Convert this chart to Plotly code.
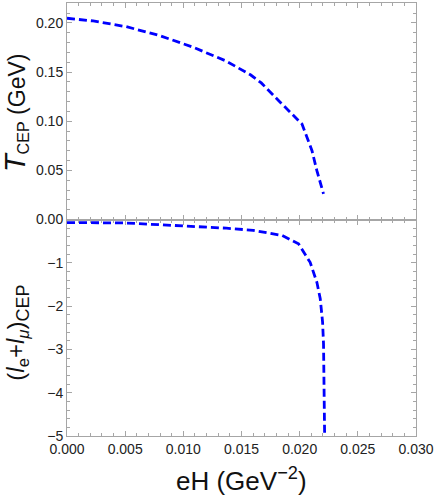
import plotly.graph_objects as go
from plotly.subplots import make_subplots

# Top panel: T_CEP vs eH
eH_T = [0.0, 0.00225, 0.0051, 0.00795, 0.0108, 0.01365, 0.0158, 0.0167, 0.0182, 0.01977, 0.0202, 0.02106, 0.02148, 0.02205]
T_cep = [0.2048, 0.2020, 0.1962, 0.1872, 0.1755, 0.1614, 0.1470, 0.1390, 0.1208, 0.1022, 0.0971, 0.0700, 0.0497, 0.0261]

# Bottom panel: (l_e + l_mu)_CEP vs eH
eH_L = [0.0, 0.005, 0.0079, 0.0108, 0.0137, 0.0160, 0.0185, 0.0199, 0.0209, 0.02148, 0.02177, 0.02197, 0.02205, 0.02216]
L_cep = [-0.07, -0.08, -0.12, -0.16, -0.20, -0.25, -0.37, -0.56, -0.99, -1.45, -1.83, -2.37, -2.87, -5.3]

x_ticks = [0.000, 0.005, 0.010, 0.015, 0.020, 0.025, 0.030]
x_ticklabels = ["0.000", "0.005", "0.010", "0.015", "0.020", "0.025", "0.030"]
t_ticks = [0.00, 0.05, 0.10, 0.15, 0.20]
t_ticklabels = ["0.00", "0.05", "0.10", "0.15", "0.20"]
l_ticks = [-5, -4, -3, -2, -1]
l_ticklabels = ["\u22125", "\u22124", "\u22123", "\u22122", "\u22121"]

FRAME = "#a6a6a6"
FONT = "Liberation Sans, Arial, sans-serif"
LINE = dict(color="#0000ff", width=2.8, dash="8px,4px")

fig = make_subplots(rows=2, cols=1, shared_xaxes=True, vertical_spacing=0)
fig.add_trace(go.Scatter(x=eH_T, y=T_cep, mode="lines", line=LINE, showlegend=False), row=1, col=1)
fig.add_trace(go.Scatter(x=eH_L, y=L_cep, mode="lines", line=LINE, showlegend=False), row=2, col=1)

common = dict(
    showline=True, linecolor=FRAME, linewidth=1, mirror="allticks",
    ticks="inside", ticklen=5, tickcolor=FRAME, tickwidth=1,
    showgrid=False, zeroline=False,
    tickfont=dict(family=FONT, size=14, color="#222"),
)

fig.update_xaxes(range=[0, 0.030], tickvals=x_ticks, ticktext=x_ticklabels,
                 minor=dict(ticks="inside", dtick=0.001, ticklen=3, tickcolor=FRAME, showgrid=False),
                 **common)
fig.update_xaxes(showticklabels=False, row=1, col=1)
fig.update_yaxes(range=[0, 0.2203], tickvals=t_ticks, ticktext=t_ticklabels,
                 minor=dict(ticks="inside", dtick=0.01, tick0=0, ticklen=3, tickcolor=FRAME, showgrid=False),
                 row=1, col=1, **common)
fig.update_yaxes(range=[-5, 0], tickvals=l_ticks, ticktext=l_ticklabels,
                 minor=dict(ticks="inside", dtick=0.2, tick0=0, ticklen=3, tickcolor=FRAME, showgrid=False),
                 row=2, col=1, **common)

fig.update_layout(
    width=436, height=496,
    margin=dict(l=67, r=18, t=2, b=60),
    plot_bgcolor="white", paper_bgcolor="white",
    annotations=[
        dict(text="<span style='font-size:29px'><i>T</i></span><sub>CEP</sub> (GeV)", xref="paper", yref="paper",
             x=-0.148, y=0.7465, textangle=-90, showarrow=False,
             xanchor="center", yanchor="middle",
             font=dict(family=FONT, size=23, color="#111")),
        dict(text="(<i>l</i><sub>e</sub>+<i>l</i><sub><i>\u03bc</i></sub>)<sub><span style='font-size:18px'>CEP</span></sub>",
             xref="paper", yref="paper",
             x=-0.142, y=0.2396, textangle=-90, showarrow=False,
             xanchor="center", yanchor="middle",
             font=dict(family=FONT, size=24, color="#111")),
        dict(text="eH (GeV<sup>\u22122</sup>)", xref="paper", yref="paper",
             x=0.501, y=-0.101, showarrow=False,
             xanchor="center", yanchor="middle",
             font=dict(family=FONT, size=26, color="#111")),
    ],
)

fig.write_html("out.html", config={"displayModeBar": False},
               post_script="document.body.style.margin='0';document.body.style.overflow='hidden';")
